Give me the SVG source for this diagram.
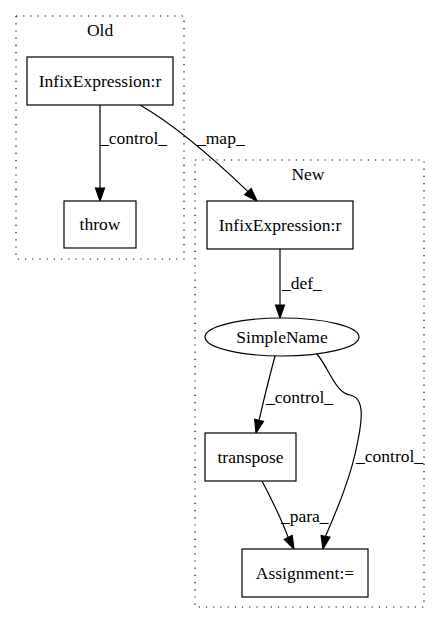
<svg xmlns="http://www.w3.org/2000/svg" width="440" height="624" viewBox="0 0 440 624">
<style>
text{font-family:"Liberation Serif","Times New Roman",serif;font-size:17.5px;fill:#000}
.c{text-anchor:middle}
.cl{fill:none;stroke:#000;stroke-width:1.2;stroke-dasharray:1.2,6}
.n{fill:#fff;stroke:#000;stroke-width:1.2}
.e{fill:none;stroke:#000;stroke-width:1.2}
.a{fill:#000;stroke:#000;stroke-width:1.2}
</style>
<rect width="440" height="624" fill="#fff"/>
<g id="cluster_old">
<rect class="cl" x="16" y="16" width="168" height="243"/>
<text class="c" x="100" y="36">Old</text>
</g>
<g id="cluster_new">
<rect class="cl" x="195" y="160" width="229" height="447"/>
<text class="c" x="308" y="180">New</text>
</g>
<g id="connectors">
<path class="e" d="M100,105 L100,188"/>
<polygon class="a" points="95.5,188 100,201 104.5,188"/>
<text x="100" y="144">_control_</text>
<path class="e" d="M140,105 C175,125 213,158 248,191.6"/>
<polygon class="a" points="244.8,194.7 257,201 251.2,188.5"/>
<text x="197" y="144">_map_</text>
<path class="e" d="M280,249 L280,305"/>
<polygon class="a" points="275.5,305 280,318 284.5,305"/>
<text x="282" y="289">_def_</text>
<path class="e" d="M275,356 C270,375 264,398 259.1,420.4"/>
<polygon class="a" points="263.5,421.5 256,433 254.7,419.3"/>
<text x="266" y="403">_control_</text>
<path class="e" d="M317,354 C330,370 335,392 350,395 C365,398 362,420 358,440 C352,475 336,512 325.5,536.3"/>
<polygon class="a" points="329.9,537.2 323,549 321.1,535.4"/>
<text x="356" y="462">_control_</text>
<path class="e" d="M262,481 C272,500 281,518 288.2,537.4"/>
<polygon class="a" points="284.2,539.4 294,549 292.2,535.4"/>
<text x="281" y="522">_para_</text>
</g>
<g id="old_infix">
<rect class="n" x="27" y="57" width="146" height="48"/>
<text class="c" x="100" y="87">InfixExpression:r</text>
</g>
<g id="throw">
<rect class="n" x="64" y="201" width="72" height="47"/>
<text class="c" x="100" y="230">throw</text>
</g>
<g id="new_infix">
<rect class="n" x="207" y="201" width="146" height="48"/>
<text class="c" x="280" y="231">InfixExpression:r</text>
</g>
<g id="simplename">
<ellipse class="n" cx="282" cy="337" rx="77" ry="19"/>
<text class="c" x="282" y="343">SimpleName</text>
</g>
<g id="transpose">
<rect class="n" x="205" y="433" width="91" height="48"/>
<text class="c" x="250.5" y="463">transpose</text>
</g>
<g id="assignment">
<rect class="n" x="242" y="549" width="126" height="48"/>
<text class="c" x="305" y="579">Assignment:=</text>
</g>
</svg>
